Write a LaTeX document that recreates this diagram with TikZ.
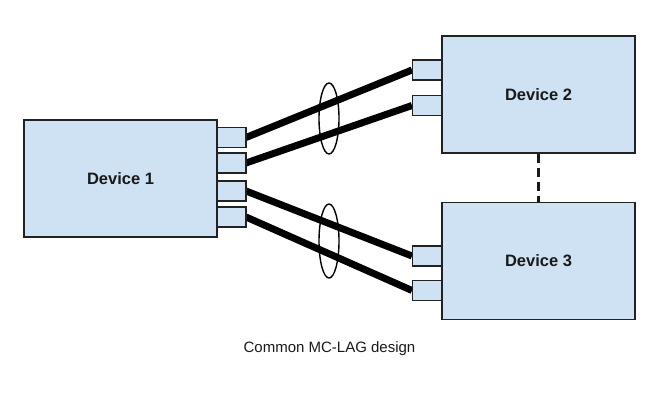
\documentclass[tikz,border=0pt]{standalone}
\usepackage{fontspec}
\setmainfont{Liberation Sans}
\usetikzlibrary{shapes.geometric}
\definecolor{boxfill}{HTML}{CFE2F3}
\definecolor{boxline}{HTML}{222222}
\begin{document}
\begin{tikzpicture}[x=1pt,y=-1pt,
  devbox/.style={draw=boxline, fill=boxfill, line width=1.5pt, inner sep=0pt,
    minimum width=193pt, minimum height=117pt,
    font=\fontsize{16.5}{18}\selectfont\bfseries, text=black!90},
  portbox/.style={draw=boxline, fill=boxfill, line width=1.5pt, inner sep=0pt,
    minimum width=29pt, minimum height=20pt},
  link/.style={line width=7pt, black, line cap=butt},
  lagring/.style={ellipse, draw=black, line width=1.4pt, inner sep=0pt,
    minimum width=20pt},
  peerlink/.style={line width=2.5pt, black!90, dash pattern=on 9pt off 5pt}]
\useasboundingbox (0,0) rectangle (660,411);
% devices
\node[devbox] (d1) at (120.5,178.5) {Device 1};
\node[devbox] (d2) at (538.5,94.5) {Device 2};
\node[devbox] (d3) at (538.5,261) {Device 3};
% links (drawn under ports)
\coordinate (a1) at (246,137.5);
\coordinate (a2) at (246,163);
\coordinate (a3) at (246,191);
\coordinate (a4) at (246,217);
\coordinate (b1) at (412,70);
\coordinate (b2) at (412,105.5);
\coordinate (c1) at (412,256);
\coordinate (c2) at (412,290.5);
\draw[link] (a1) -- (b1);
\draw[link] (a2) -- (b2);
\draw[link] (a3) -- (c1);
\draw[link] (a4) -- (c2);
% ports
\node[portbox] (p1) at (231.5,137.5) {};
\node[portbox] (p2) at (231.5,163) {};
\node[portbox] (p3) at (231.5,191) {};
\node[portbox] (p4) at (231.5,217) {};
\node[portbox] (q1) at (427,70) {};
\node[portbox] (q2) at (427,105.5) {};
\node[portbox] (r1) at (427,256) {};
\node[portbox] (r2) at (427,290.5) {};
% LAG ellipses
\node[lagring, minimum height=71pt] (e1) at (329,118.5) {};
\node[lagring, minimum height=74pt] (e2) at (329,241) {};
% peer link
\draw[peerlink] (d2.south) -- (d3.north);
% caption
\node[font=\fontsize{15}{17}\selectfont, text=black!90] (cap) at (329.5,348.5) {Common MC-LAG design};
\end{tikzpicture}
\end{document}
